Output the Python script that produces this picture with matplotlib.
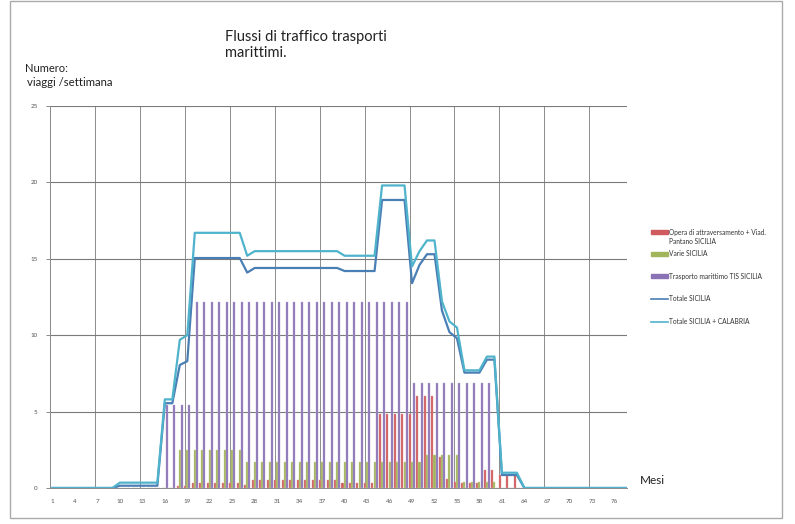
import numpy as np
import matplotlib
matplotlib.use("Agg")
import matplotlib.pyplot as plt
from matplotlib.patches import Rectangle
from matplotlib.lines import Line2D

# ---- data -------------------------------------------------------------
months = list(range(1, 79))
tick_months = list(range(1, 77, 3))
y_ticks = [0, 5, 10, 15, 20, 25]

opera_sicilia = ([0] * 17 + [0.15, 0.15] + [0.35] * 7 + [0.2] + [0.5] * 12 +
                 [0.3] * 5 + [4.85] * 5 + [6.0] * 3 + [2.0, 0.6, 0.4] +
                 [0.3] * 3 + [1.2] * 2 + [0.85] * 3 + [0] * 15)
varie_sicilia = ([0] * 17 + [2.5] * 9 + [1.7] * 24 + [2.15] * 5 + [0.4] * 5 +
                 [0] * 18)
trasporto_tis = [0] * 15 + [5.45] * 4 + [12.2] * 29 + [6.9] * 11 + [0] * 19
totale_sicilia = ([0] * 9 + [0.15] * 6 + [5.55, 5.55, 8.05, 8.3] + [15.05] * 7 +
                  [14.1] + [14.4] * 12 + [14.2] * 5 + [18.85] * 4 +
                  [13.4, 14.6, 15.3, 15.3, 11.6, 10.2, 9.8] + [7.55] * 3 +
                  [8.4] * 2 + [0.85] * 3 + [0] * 15)
totale_sic_cal = ([0] * 9 + [0.35] * 6 + [5.8, 5.8, 9.7, 10.0] + [16.7] * 7 +
                  [15.2] + [15.5] * 12 + [15.2] * 5 + [19.8] * 4 +
                  [14.5, 15.5, 16.2, 16.2, 12.2, 10.9, 10.5] + [7.7] * 3 +
                  [8.6] * 2 + [1.0] * 3 + [0] * 15)

labels = ["Opera di attraversamento + Viad.\nPantano SICILIA",
          "Varie SICILIA",
          "Trasporto marittimo TIS SICILIA",
          "Totale SICILIA",
          "Totale SICILIA + CALABRIA"]
c_red, c_green, c_purple = "#cf5b5e", "#a3b55a", "#8a72b4"
c_blue, c_cyan = "#4a7fb5", "#4fb3cc"

plt.rcParams['font.family'] = ['Lato', 'DejaVu Sans']

W, H = 795, 524
fig = plt.figure(figsize=(W / 100, H / 100), dpi=100)
ax = fig.add_axes([50 / W, 1 - 488 / H, 577 / W, 382 / H])

x = np.array(months, dtype=float)
bw = 0.27
off = 0.28
ax.bar(x - off, opera_sicilia, width=bw, color=c_red, edgecolor="#e59a9a",
       linewidth=0.3, zorder=2)
ax.bar(x, varie_sicilia, width=bw, color=c_green, edgecolor="#c6d08e",
       linewidth=0.3, zorder=2)
ax.bar(x + off, trasporto_tis, width=bw, color=c_purple, edgecolor="#b9acd6",
       linewidth=0.3, zorder=2)
ax.plot(x, totale_sicilia, color=c_blue, lw=1.6, zorder=3)
ax.plot(x, totale_sic_cal, color=c_cyan, lw=1.6, zorder=4)

x0, x1 = 0.67, 77.7
ax.set_xlim(x0, x1)
ax.set_ylim(0, 25)
for k in range(13):
    ax.axvline(x0 + 6 * k, color="#8c8c8c", lw=0.7, zorder=1)
for v in y_ticks[1:]:
    ax.axhline(v, color="#7a7a7a", lw=0.8, zorder=1)

ax.set_xticks(tick_months)
ax.set_xticklabels([str(m) for m in tick_months], fontsize=4.5, color="#555555")
ax.set_yticks(y_ticks)
ax.set_yticklabels([str(v) for v in y_ticks], fontsize=4.5, color="#555555")
ax.tick_params(axis='x', length=0, pad=8)
ax.tick_params(axis='y', length=3, width=0.6, color="#777777", pad=6)
for s in ["top", "right"]:
    ax.spines[s].set_visible(False)
ax.spines["left"].set_color("#8c8c8c")
ax.spines["left"].set_linewidth(0.7)
ax.spines["bottom"].set_color("#8c8c8c")
ax.spines["bottom"].set_linewidth(0.7)

# texts
fig.text(225 / W, 1 - 45 / H, "Flussi di traffico trasporti\nmarittimi.",
         fontsize=10.5, ha="left", va="center", linespacing=1.25, color="#222222")
fig.text(25 / W, 1 - 68 / H, "Numero:", fontsize=8, ha="left", va="center",
         color="#222222")
fig.text(27 / W, 1 - 82 / H, "viaggi /settimana", fontsize=8.2, ha="left",
         va="center", color="#222222")
fig.text(640 / W, 1 - 481 / H, "Mesi", fontsize=8.5, ha="left", va="center",
         color="#222222")

# legend (manual)
def fy(p):
    return 1 - p / H

pw = 17 / W
for col, yy in [(c_red, 232), (c_green, 253.5), (c_purple, 276)]:
    fig.patches.append(Rectangle((651 / W, fy(yy + 2)), pw, 4 / H,
                                 transform=fig.transFigure, color=col))
for col, yy in [(c_blue, 298.5), (c_cyan, 321.5)]:
    fig.lines.append(Line2D([651 / W, 668 / W], [fy(yy), fy(yy)],
                            transform=fig.transFigure, color=col, lw=1.2))
fig.text(669 / W, fy(232), "Opera di attraversamento + Viad.", fontsize=4.8,
         va="center", ha="left", color="#333333")
fig.text(669 / W, fy(241), "Pantano SICILIA", fontsize=4.8,
         va="center", ha="left", color="#333333")
for lab, yy in zip(labels[1:], [253.5, 276, 298.5, 321.5]):
    fig.text(669 / W, fy(yy), lab, fontsize=4.8, va="center", ha="left",
             color="#333333")

# outer frame
fig.patches.append(Rectangle((10 / W, 6 / H), 772 / W, 517 / H,
                             transform=fig.transFigure, fill=False,
                             edgecolor="#aaaaaa", lw=1))

fig.savefig("out.png", dpi=100)
